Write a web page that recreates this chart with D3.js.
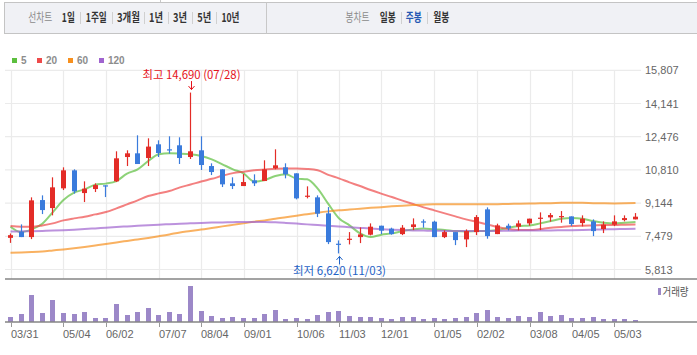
<!DOCTYPE html>
<html><head><meta charset="utf-8">
<script src="https://cdn.jsdelivr.net/npm/d3@7"></script>
<style>
html,body{margin:0;padding:0;background:#fff;overflow:hidden}
svg{display:block}
text{font-family:"Liberation Sans",Arial,sans-serif}
.kr{font-family:"Noto Sans CJK KR","Noto Sans",sans-serif}
</style></head><body>
<svg id="c" width="697" height="355"></svg>
<script>
// ---- data (weekly candles) ----
const dates = ["03/31","04/07","04/14","04/21","04/28","05/04","05/12","05/19","05/26","06/02",
"06/09","06/16","06/23","06/30","07/07","07/14","07/21","07/28","08/04","08/11",
"08/18","08/25","09/01","09/08","09/15","09/22","09/29","10/06","10/13","10/20",
"10/27","11/03","11/10","11/17","11/24","12/01","12/08","12/15","12/22","12/29",
"01/05","01/12","01/19","01/26","02/02","02/09","02/16","02/23","03/01","03/08",
"03/15","03/22","03/29","04/05","04/12","04/19","04/26","05/03","05/10","05/17"];
const tickDates = ["03/31","05/04","06/02","07/07","08/04","09/01","10/06","11/03","12/01","01/05","02/02","03/08","04/05","05/03"];
const priceTicks = [5813,7479,9144,10810,12476,14141,15807];

const open = [7400,7710,7439,9297,8895,9885,10788,9648,9849,10035,
10236,11456,11642,11406,12094,11843,12044,11456,11793,11004,
10839,10136,10000,10286,10251,10889,10939,10638,9483,9433,
8629,7107,7323,7439,7559,8011,7861,7589,7941,8227,
8212,7439,7690,7323,7690,8830,7589,8011,7961,8127,
8363,8428,8463,8478,8142,8227,7841,8062,8293,8328];
const high = [7621,8077,9433,9533,10437,10939,10839,10236,10136,10035,
11743,11793,12546,12395,12295,12496,12446,14690,12496,11140,
10839,10437,10600,10588,11291,11843,11140,10638,9985,9533,
8945,7273,7690,7926,8127,8011,7911,8041,8378,8328,
8262,7775,7690,7826,8544,8930,8112,8112,8277,8363,
8679,8644,8745,8478,8529,8328,8227,8529,8529,8644];
const low = [7149,7439,7338,8594,8529,9799,9618,9197,9699,9448,
10201,11004,11105,11004,11456,11627,11105,11356,10804,10552,
9950,9849,10000,10000,10251,10839,10387,9332,9382,8443,
7087,6620,7072,7138,7524,7589,7559,7539,7790,7911,
7439,7389,7037,6937,7539,7358,7589,7775,7775,8011,
7790,8212,8162,7991,7976,7489,7640,7991,8227,8328];
const close = [7536,7439,9282,8795,9935,10788,9734,9869,10050,10000,
11391,11642,11105,11979,11657,11808,11406,11743,11055,10703,
10085,10000,10201,10136,10839,11040,10588,9382,9518,8614,
7188,7057,7358,7574,7961,7760,7589,7911,8077,8177,
7439,7690,7288,7740,8443,7489,8026,7876,8127,8363,
8413,8544,8494,8092,8363,7740,8062,8227,8393,8463];
const volume = [50,80,270,90,220,90,80,100,40,40,
180,70,100,140,70,100,80,360,110,60,
40,50,40,40,80,120,30,40,30,70,
100,110,60,50,50,40,30,50,50,30,
40,30,40,50,90,120,50,40,60,50,
100,60,70,40,40,50,30,30,30,20];

const ma5 = [7961,7690,7826,8112,8694,9297,9669,9834,10070,10121,
10251,10623,10839,11256,11592,11642,11627,11592,11507,11341,
11090,10839,10638,10221,10301,10502,10588,10372,10337,9869,
9106,8388,8026,7625,7439,7559,7625,7740,7826,7876,
7826,7800,7740,7725,7740,7750,7790,7911,7991,8026,
8127,8242,8363,8403,8363,8242,8162,8127,8162,8192];
const ma20 = [7991,7961,7961,8026,8127,8277,8378,8463,8579,8694,
8880,9081,9282,9498,9633,9749,9935,10075,10226,10362,
10512,10648,10723,10789,10829,10864,10874,10874,10854,10789,
10563,10387,10186,10000,9799,9618,9448,9267,9096,8930,
8780,8629,8478,8328,8202,8077,7941,7841,7790,7790,
7841,7911,7941,7991,8011,8026,8041,8041,8062,8077];
const ma60 = [6655,6670,6691,6721,6771,6821,6881,6947,7022,7097,
7173,7248,7323,7399,7484,7574,7675,7740,7815,7891,
7976,8052,8127,8212,8277,8363,8438,8514,8589,8664,
8729,8780,8820,8865,8905,8940,8981,9016,9046,9066,
9081,9081,9081,9081,9081,9081,9091,9101,9111,9121,
9131,9141,9156,9161,9156,9141,9131,9126,9131,9146];
const ma120 = [7715,7725,7735,7750,7765,7785,7810,7841,7876,7911,
7946,7976,8006,8031,8062,8087,8112,8132,8152,8167,
8177,8187,8197,8202,8197,8182,8152,8117,8077,8046,
8011,7976,7936,7901,7866,7836,7810,7790,7775,7765,
7755,7750,7745,7740,7740,7745,7750,7760,7765,7775,
7775,7775,7780,7785,7795,7810,7826,7836,7851,7861];

const maNames = ["5","20","60","120"];
const maColors = ["#5cbf3e","#ee4a4a","#f7901e","#a064cf"];

// ---- drawing ----
const svg = d3.select("#c");
const x = d3.scalePoint().domain(dates).range([10.5, 635.5]);
const y = d3.scaleLinear().domain([5813, 15807]).range([269.5, 70.3]);
const yv = d3.scaleLinear().domain([0, 400]).range([322, 282]);
const UP = "#e32c27", DOWN = "#3a7bdc";

// header
svg.append("line").attr("x1",160.5).attr("x2",160.5).attr("y1",0).attr("y2",2.5).attr("stroke","#c8c8c8");
svg.append("rect").attr("x",4.5).attr("y",2.5).attr("width",700).attr("height",31)
  .attr("fill","#f0f1f5").attr("stroke","#c4c4c4");
svg.append("line").attr("x1",266.5).attr("x2",266.5).attr("y1",2.5).attr("y2",33.5).attr("stroke","#c8c8c8");
const hdr = [
  {t:"선차트",cx:40.3,w:24,c:"#8a8a8a",b:false},
  {t:"1일",cx:68.3,w:13,c:"#333",b:true},
  {t:"1주일",cx:96.3,w:21,c:"#333",b:true},
  {t:"3개월",cx:128.5,w:23,c:"#333",b:true},
  {t:"1년",cx:156,w:14,c:"#333",b:true},
  {t:"3년",cx:180,w:14,c:"#333",b:true},
  {t:"5년",cx:204.3,w:14,c:"#333",b:true},
  {t:"10년",cx:230.5,w:18,c:"#333",b:true},
  {t:"봉차트",cx:357.5,w:24,c:"#8a8a8a",b:false},
  {t:"일봉",cx:387.8,w:16,c:"#333",b:true},
  {t:"주봉",cx:413.7,w:16,c:"#2457b3",b:true},
  {t:"월봉",cx:441.2,w:16,c:"#333",b:true}
];
hdr.forEach(h=>{
  svg.append("text").attr("class","kr").attr("x",h.cx-h.w/2).attr("y",22)
    .attr("textLength",h.w).attr("lengthAdjust","spacingAndGlyphs")
    .attr("font-size",12).attr("font-weight",h.b?"bold":"normal").attr("fill",h.c).text(h.t);
});
[80,111.7,144,168,192,216,400.7,427.3].forEach(sx=>{
  svg.append("line").attr("x1",Math.round(sx)+0.5).attr("x2",Math.round(sx)+0.5)
    .attr("y1",12).attr("y2",24).attr("stroke","#d0d0d0");
});

// legend
const legX = [12,37,68,99];
maNames.forEach((n,i)=>{
  svg.append("rect").attr("x",legX[i]).attr("y",58).attr("width",5).attr("height",5).attr("fill",maColors[i]);
  svg.append("text").attr("x",legX[i]+9).attr("y",64).attr("font-size",10).attr("font-weight","bold")
    .attr("fill","#8c8c8c").text(n);
});

// grid
const g = svg.append("g");
priceTicks.forEach(t=>{
  g.append("line").attr("x1",5).attr("x2",641).attr("y1",y(t)).attr("y2",y(t))
    .attr("stroke","#ebebeb").attr("stroke-width",1.2);
  svg.append("text").attr("x",645).attr("y",y(t)+4).attr("font-size",11).attr("fill","#666")
    .text(d3.format(",")(t));
});
tickDates.forEach(d=>{
  const tx = Math.round(x(d))+0.5;
  g.append("line").attr("x1",tx).attr("x2",tx).attr("y1",70.3).attr("y2",279)
    .attr("stroke","#ebebeb").attr("stroke-width",1.2);
});

// MA lines
[ma5,ma20,ma60,ma120].forEach((arr,k)=>{
  const line = d3.line().x((d,i)=>x(dates[i])).y(d=>y(d)).curve(d3.curveMonotoneX);
  svg.append("path").attr("d",line(arr)).attr("fill","none").attr("stroke",maColors[k])
    .attr("stroke-width",2).attr("stroke-opacity",0.7).attr("stroke-linejoin","round");
});

// candles
dates.forEach((d,i)=>{
  const bx = Math.round(x(d)-2.5);
  const col = close[i] >= open[i] ? UP : DOWN;
  svg.append("line").attr("x1",bx+2.5).attr("x2",bx+2.5).attr("y1",y(high[i])).attr("y2",y(low[i]))
    .attr("stroke",col).attr("stroke-width",1.2);
  const top = y(Math.max(open[i],close[i])), bot = y(Math.min(open[i],close[i]));
  svg.append("rect").attr("x",bx).attr("y",top).attr("width",5).attr("height",Math.max(1.2,bot-top)).attr("fill",col);
});

// axes lines
svg.append("line").attr("x1",5).attr("x2",697).attr("y1",279).attr("y2",279).attr("stroke","#858585").attr("stroke-width",1.5);

// volume
dates.forEach((d,i)=>{
  const bx = Math.round(x(d)-2.5);
  svg.append("rect").attr("x",bx).attr("y",yv(volume[i])).attr("width",5)
    .attr("height",yv(0)-yv(volume[i])).attr("fill","#9c88c8");
});
svg.append("line").attr("x1",5).attr("x2",697).attr("y1",322).attr("y2",322).attr("stroke","#858585").attr("stroke-width",1.5);
tickDates.forEach(d=>{
  const tx = Math.round(x(d))+0.5;
  svg.append("line").attr("x1",tx).attr("x2",tx).attr("y1",322.5).attr("y2",327).attr("stroke","#999");
  svg.append("text").attr("x",tx-0.5).attr("y",338).attr("font-size",11).attr("fill","#666").text(d);
});
svg.append("rect").attr("x",658).attr("y",288).attr("width",3).attr("height",7).attr("fill","#9c88c8");
svg.append("text").attr("class","kr").attr("x",662.5).attr("y",295.5).attr("font-size",11)
  .attr("textLength",26).attr("lengthAdjust","spacingAndGlyphs").attr("fill","#555").text("거래량");

// high / low annotations
const iMax = d3.maxIndex(high), iMin = d3.minIndex(low);
const fmt = d3.format(",");
{
  const hx = Math.round(x(dates[iMax]))+0.5, hy = y(high[iMax]);
  const c = "#e5121b";
  svg.append("text").attr("class","kr").attr("x",hx).attr("y",hy-13.5).attr("text-anchor","middle")
    .attr("font-size",11.5).attr("fill",c).attr("textLength",98).attr("lengthAdjust","spacingAndGlyphs")
    .text(`최고 ${fmt(high[iMax])} (${dates[iMax]})`);
  svg.append("line").attr("x1",hx).attr("x2",hx).attr("y1",hy-11.5).attr("y2",hy-3).attr("stroke",c);
  svg.append("path").attr("d",`M${hx-3},${hy-6.5}L${hx},${hy-3}L${hx+3},${hy-6.5}`).attr("fill","none").attr("stroke",c);
}
{
  const lx = Math.round(x(dates[iMin]))+0.5, ly = y(low[iMin]);
  const c = "#1f63c6";
  svg.append("text").attr("class","kr").attr("x",lx).attr("y",ly+22).attr("text-anchor","middle")
    .attr("font-size",11.5).attr("fill",c).attr("textLength",93).attr("lengthAdjust","spacingAndGlyphs")
    .text(`최저 ${fmt(low[iMin])} (${dates[iMin]})`);
  svg.append("line").attr("x1",lx).attr("x2",lx).attr("y1",ly+3).attr("y2",ly+11).attr("stroke",c);
  svg.append("path").attr("d",`M${lx-3},${ly+6.5}L${lx},${ly+3}L${lx+3},${ly+6.5}`).attr("fill","none").attr("stroke",c);
}
</script>
</body></html>
